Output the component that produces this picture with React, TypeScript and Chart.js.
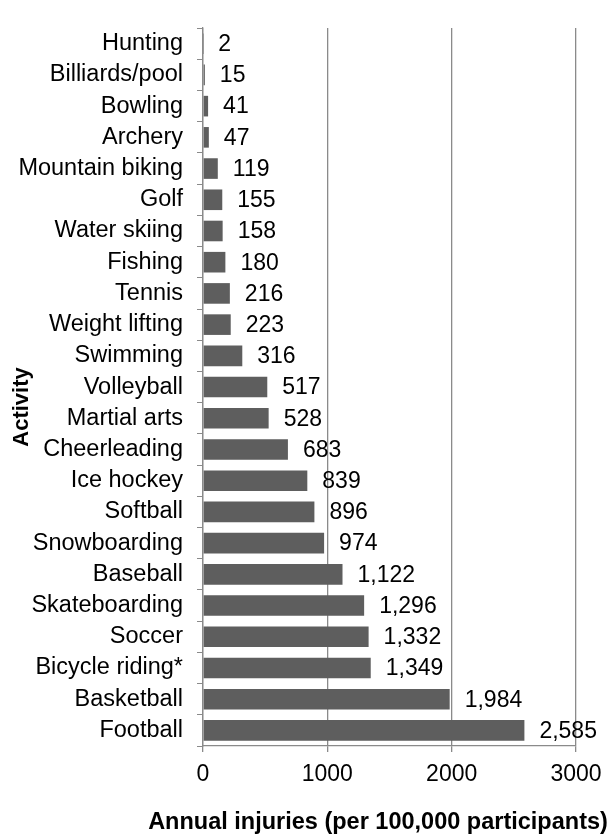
import React, { useEffect, useRef } from "react";
import { Chart, registerables } from "chart.js";

Chart.register(...registerables);

const categories = [
  "Hunting", "Billiards/pool", "Bowling", "Archery", "Mountain biking", "Golf",
  "Water skiing", "Fishing", "Tennis", "Weight lifting", "Swimming", "Volleyball",
  "Martial arts", "Cheerleading", "Ice hockey", "Softball", "Snowboarding",
  "Baseball", "Skateboarding", "Soccer", "Bicycle riding*", "Basketball", "Football",
];
const values = [
  2, 15, 41, 47, 119, 155, 158, 180, 216, 223, 316, 517, 528, 683, 839, 896, 974,
  1122, 1296, 1332, 1349, 1984, 2585,
];
const xTicks = [0, 1000, 2000, 3000];
const xTitle = "Annual injuries (per 100,000 participants)";
const yTitle = "Activity";

const FONT = "'Liberation Sans', Arial, sans-serif";
const GRID = "#8a8a8a";

export default function App() {
  const ref = useRef<HTMLCanvasElement>(null);
  useEffect(() => {
    const canvas = ref.current!;
    const labelPlugin = {
      id: "valueLabels",
      afterDatasetsDraw(chart: any) {
        const ctx = chart.ctx;
        const meta = chart.getDatasetMeta(0);
        ctx.save();
        ctx.font = `23px ${FONT}`;
        ctx.fillStyle = "#000";
        ctx.textAlign = "left";
        ctx.textBaseline = "middle";
        meta.data.forEach((el: any, i: number) => {
          ctx.fillText(values[i].toLocaleString("en-US"), el.x + 15, el.y + 1);
        });
        ctx.restore();
      },
      afterDraw(chart: any) {
        const ctx = chart.ctx;
        ctx.save();
        ctx.font = `bold 23.5px ${FONT}`;
        ctx.fillStyle = "#000";
        ctx.textAlign = "center";
        ctx.textBaseline = "middle";
        ctx.fillText(xTitle, 378, 823);
        ctx.font = `bold 22px ${FONT}`;
        ctx.translate(22, 407);
        ctx.rotate(-Math.PI / 2);
        ctx.fillText(yTitle, 0, 0);
        ctx.restore();
      },
    };
    const chart = new Chart(canvas, {
      type: "bar",
      data: {
        labels: categories,
        datasets: [
          {
            data: values,
            backgroundColor: "#5e5e5e",
            borderWidth: 0,
            barPercentage: 0.66,
            categoryPercentage: 1,
          },
        ],
      },
      options: {
        indexAxis: "y",
        animation: false,
        responsive: false,
        maintainAspectRatio: false,
        layout: { padding: { top: 12, right: 37, left: 0, bottom: 0 } },
        plugins: {
          legend: { display: false },
          tooltip: { enabled: false },
        },
        scales: {
          x: {
            min: 0,
            max: 3000,
            afterBuildTicks: (s: any) => {
              s.ticks = xTicks.map((v) => ({ value: v }));
            },
            afterFit: (s: any) => {
              s.height = 91;
            },
            ticks: {
              font: { family: FONT, size: 23 },
              color: "#000",
              padding: 9,
              callback: (v: any) => String(v),
            },
            grid: {
              color: GRID,
              lineWidth: 1.3,
              drawTicks: true,
              tickLength: 6,
              tickColor: GRID,
            },
            border: { color: GRID, width: 1.3 },
          },
          y: {
            afterFit: (s: any) => {
              s.width = 203;
            },
            ticks: {
              font: { family: FONT, size: 23.5 },
              color: "#000",
              padding: 14,
              autoSkip: false,
            },
            grid: {
              drawOnChartArea: false,
              drawTicks: true,
              tickLength: 6,
              tickColor: GRID,
              offset: true,
            },
            border: { color: GRID, width: 1.3 },
          },
        },
      },
      plugins: [labelPlugin],
    });
    return () => chart.destroy();
  }, []);
  return (
    <div style={{ position: "absolute", left: 0, top: 0, width: 613, height: 837, background: "#fff" }}>
      <canvas ref={ref} width={613} height={837} style={{ display: "block" }} />
    </div>
  );
}
